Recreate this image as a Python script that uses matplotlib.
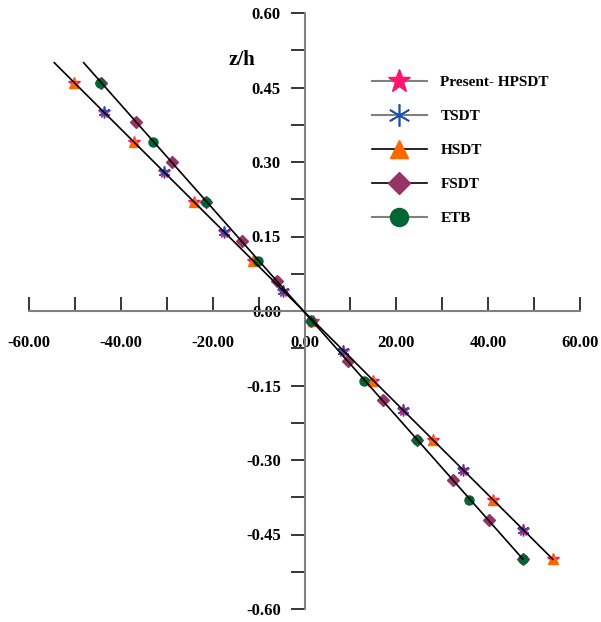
import matplotlib
matplotlib.use("Agg")
import matplotlib.pyplot as plt
from matplotlib.lines import Line2D
from matplotlib.ticker import FixedLocator, FuncFormatter

plt.rcParams['font.family'] = ['Liberation Serif', 'DejaVu Serif']
plt.rcParams['font.weight'] = 'bold'

# z/h positions and stress values
z_hpsdt = [0.46, 0.40, 0.34, 0.28, 0.22, 0.16, 0.10, 0.04, -0.02, -0.08,
           -0.14, -0.20, -0.26, -0.32, -0.38, -0.44, -0.50]
x_hpsdt = [-50.1, -43.6, -37.1, -30.6, -24.1, -17.6, -11.2, -4.6, 1.9, 8.4,
           14.9, 21.5, 28.0, 34.5, 41.0, 47.6, 54.1]

z_tsdt = [0.40, 0.28, 0.16, 0.04, -0.08, -0.20, -0.32, -0.44]
x_tsdt = [-43.6, -30.6, -17.6, -4.6, 8.4, 21.5, 34.5, 47.6]

z_hsdt = [0.46, 0.34, 0.22, 0.10, -0.02, -0.14, -0.26, -0.38, -0.50]
x_hsdt = [-50.1, -37.1, -24.1, -11.2, 1.9, 14.9, 28.0, 41.0, 54.1]

z_fsdt = [0.46, 0.38, 0.30, 0.22, 0.14, 0.06, -0.02, -0.10, -0.18, -0.26,
          -0.34, -0.42, -0.50]
x_fsdt = [-44.4, -36.7, -28.9, -21.4, -13.7, -6.0, 1.5, 9.4, 17.1, 24.6,
          32.3, 40.1, 47.6]

z_etb = [0.46, 0.34, 0.22, 0.10, -0.02, -0.14, -0.26, -0.38, -0.50]
x_etb = [-44.6, -33.0, -21.4, -10.1, 1.5, 12.9, 24.5, 35.9, 47.6]

# the two solid trend lines
z_line = [0.5, -0.5]
x_line_hsdt = [-54.5, 54.1]
x_line_fsdt = [-48.1, 47.6]

labels = ['Present- HPSDT', 'TSDT', 'HSDT', 'FSDT', 'ETB']

fig = plt.figure(figsize=(6.01, 6.22), dpi=100)
ax = fig.add_axes([29 / 601, 13 / 622, 551 / 601, 596 / 622])

ax.plot(x_hpsdt, z_hpsdt, ls='none', marker='*', ms=8.5, color='#ff1470', zorder=3)
ax.plot(x_tsdt, z_tsdt, ls='none', marker=(6, 2, 0), ms=8.5, mew=1.0,
        color='#2050b0', zorder=4)
ax.plot(x_hsdt, z_hsdt, ls='none', marker='^', ms=7.5, color='#ff6600', zorder=4)
ax.plot(x_fsdt, z_fsdt, ls='none', marker='D', ms=6, color='#993366', zorder=4)
ax.plot(x_etb, z_etb, ls='none', marker='o', ms=6.5, color='#006633', zorder=5)

ax.plot(x_line_hsdt, z_line, color='black', lw=1.2, zorder=6)
ax.plot(x_line_fsdt, z_line, color='black', lw=1.2, zorder=6)

ax.set_xlim(-60, 60)
ax.set_ylim(-0.6, 0.6)

for s in ['top', 'right']:
    ax.spines[s].set_visible(False)
for s in ['left', 'bottom']:
    ax.spines[s].set_position(('data', 0))
    ax.spines[s].set_color('#808080')
    ax.spines[s].set_linewidth(1.5)

xt = [-60, -50, -40, -30, -20, -10, 0, 10, 20, 30, 40, 50, 60]
yt = [-0.6, -0.525, -0.45, -0.375, -0.3, -0.225, -0.15, -0.075, 0.0,
      0.075, 0.15, 0.225, 0.3, 0.375, 0.45, 0.525, 0.6]
ax.xaxis.set_major_locator(FixedLocator(xt))
ax.yaxis.set_major_locator(FixedLocator(yt))
ax.xaxis.set_major_formatter(FuncFormatter(
    lambda v, p: f'{v:.2f}' if round(v) % 20 == 0 else ''))
ax.yaxis.set_major_formatter(FuncFormatter(
    lambda v, p: f'{v:.2f}' if round(v / 0.075) % 2 == 0 else ''))
ax.tick_params(axis='x', direction='in', length=10, width=1.1, pad=17,
               labelsize=12)
ax.tick_params(axis='y', direction='out', length=10, width=1.1, pad=7,
               labelsize=12)

ax.text(-13.7, 0.506, 'z/h', fontsize=15, fontweight='bold',
        ha='center', va='center')

handles = [
    Line2D([], [], color='#808080', lw=1.5, marker='*', ms=17, mfc='#ff1470', mec='#ff1470'),
    Line2D([], [], color='#808080', lw=1.5, marker=(6, 2, 0), ms=16, mew=1.2, mec='#2050b0'),
    Line2D([], [], color='black', lw=1.2, marker='^', ms=13, mfc='#ff6600', mec='#ff6600'),
    Line2D([], [], color='black', lw=1.2, marker='D', ms=11, mfc='#993366', mec='#993366'),
    Line2D([], [], color='#808080', lw=1.5, marker='o', ms=13, mfc='#006633', mec='#006633'),
]
fig.legend(handles, labels, loc='upper left', bbox_to_anchor=(358 / 601, 1 - 62 / 622),
           frameon=False, handlelength=3.6, handletextpad=0.9, labelspacing=1.33,
           prop={'family': 'Liberation Serif', 'weight': 'bold', 'size': 11})

fig.savefig('out.png', dpi=100)
